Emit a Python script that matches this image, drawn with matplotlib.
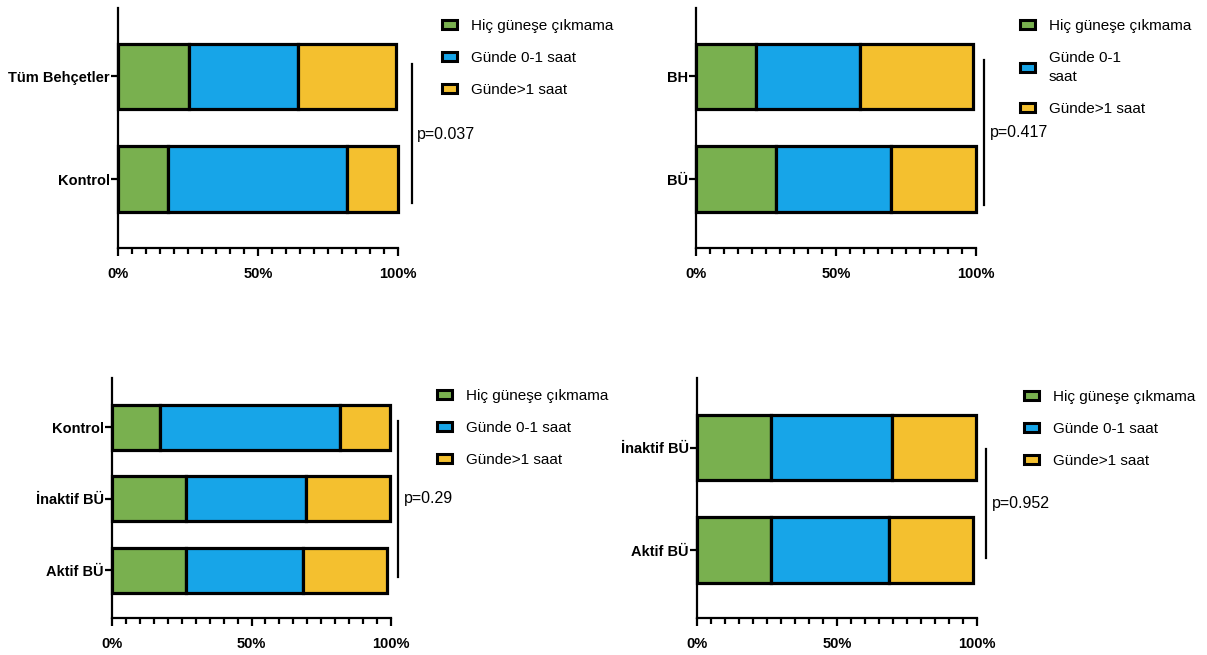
import matplotlib
matplotlib.use("Agg")
import matplotlib.pyplot as plt
from matplotlib import font_manager
from matplotlib.patches import Patch
from matplotlib.ticker import MultipleLocator

# ---- data (percent of each group) ----
series_labels = ["Hiç güneşe çıkmama", "Günde 0-1 saat", "Günde>1 saat"]
series_labels_bh = ["Hiç güneşe çıkmama", "Günde 0-1\nsaat", "Günde>1 saat"]
series_colors = ["#79B04F", "#17A5E8", "#F4C02F"]

xtick_values = [0, 50, 100]
xtick_labels = ["0%", "50%", "100%"]

# panel A: all Behcet vs control
cats_a = ["Kontrol", "Tüm Behçetler"]
hic_a = [17.8, 25.2]
gunde01_a = [64.0, 39.2]
gunde1_a = [18.2, 35.0]
p_a = "p=0.037"

# panel B: BH vs BU
cats_b = ["BÜ", "BH"]
hic_b = [28.6, 21.5]
gunde01_b = [41.0, 37.2]
gunde1_b = [30.4, 40.2]
p_b = "p=0.417"

# panel C: control, inactive, active
cats_c = ["Aktif BÜ", "İnaktif BÜ", "Kontrol"]
hic_c = [26.5, 26.4, 17.3]
gunde01_c = [42.0, 43.1, 64.4]
gunde1_c = [30.1, 30.3, 18.0]
p_c = "p=0.29"

# panel D: inactive vs active
cats_d = ["Aktif BÜ", "İnaktif BÜ"]
hic_d = [26.5, 26.4]
gunde01_d = [42.0, 43.1]
gunde1_d = [30.1, 30.3]
p_d = "p=0.952"

W, H = 1207, 655

names = {f.name for f in font_manager.fontManager.ttflist}
if "Liberation Sans Narrow" in names:
    FAMILY = ["Liberation Sans Narrow", "DejaVu Sans"]
    FS, FS_LEG, FS_P = 12, 13, 13.5
else:
    FAMILY = ["Liberation Sans", "DejaVu Sans"]
    FS, FS_LEG, FS_P = 10.5, 11, 11.5
plt.rcParams["font.family"] = FAMILY

fig = plt.figure(figsize=(W / 100, H / 100), dpi=100)


def px_rect(x0, ytop, x1, ybot):
    return [x0 / W, 1 - ybot / H, (x1 - x0) / W, (ybot - ytop) / H]


def draw_panel(rect, cats, series, ylim, bar_h, labels, leg_xy, bracket, ptext):
    ax = fig.add_axes(px_rect(*rect))
    pos = list(range(len(cats)))
    left = [0.0] * len(cats)
    for vals, col in zip(series, series_colors):
        ax.barh(pos, vals, left=left, height=bar_h, color=col,
                edgecolor="black", linewidth=2.3, clip_on=False, zorder=3)
        left = [l + v for l, v in zip(left, vals)]

    ax.set_xlim(0, 100)
    ax.set_ylim(*ylim)
    for s in ["top", "right"]:
        ax.spines[s].set_visible(False)
    for s in ["left", "bottom"]:
        ax.spines[s].set_linewidth(1.6)

    ax.set_xticks(xtick_values, labels=xtick_labels, fontweight="bold", fontsize=FS)
    ax.xaxis.set_minor_locator(MultipleLocator(5))
    ax.tick_params(axis="x", which="major", length=5.5, width=1.6, pad=8)
    ax.tick_params(axis="x", which="minor", length=4, width=1.6)
    ax.set_yticks(pos, labels=cats, fontweight="bold", fontsize=FS)
    ax.tick_params(axis="y", length=5, width=1.6, pad=1)

    # significance bracket
    bx, by0, by1 = bracket
    ax.plot([bx, bx], [by0, by1], color="black", lw=1.6,
            transform=ax.transAxes, clip_on=False)
    ax.text(ptext[0], ptext[1], ptext[2], transform=ax.transAxes,
            ha="left", va="center", fontsize=FS_P)

    handles = [Patch(facecolor=c, edgecolor="black", linewidth=2.2) for c in series_colors]
    leg = ax.legend(handles, labels, loc="upper left",
                    bbox_to_anchor=(leg_xy[0] / W, 1 - leg_xy[1] / H),
                    bbox_transform=fig.transFigure, frameon=False, fontsize=FS_LEG,
                    handlelength=1.0, handleheight=0.5, handletextpad=0.9,
                    labelspacing=1.17, borderpad=0, borderaxespad=0)
    for t in leg.get_texts():
        t.set_linespacing(1.45)
    return ax


draw_panel((118, 8, 398, 248), cats_a, [hic_a, gunde01_a, gunde1_a],
           (-0.673, 1.668), 0.64, series_labels, (442, 19),
           (1.05, 0.767, 0.1875), (1.068, 0.475, p_a))

draw_panel((696, 8, 976, 248), cats_b, [hic_b, gunde01_b, gunde1_b],
           (-0.673, 1.668), 0.64, series_labels_bh, (1020, 19),
           (1.029, 0.783, 0.179), (1.05, 0.483, p_b))

draw_panel((112, 378, 391, 618), cats_c, [hic_c, gunde01_c, gunde1_c],
           (-0.664, 2.69), 0.63, series_labels, (437, 389),
           (1.025, 0.82, 0.171), (1.047, 0.496, p_c))

draw_panel((697, 378, 977, 618), cats_d, [hic_d, gunde01_d, gunde1_d],
           (-0.663, 1.678), 0.64, series_labels, (1024, 390),
           (1.032, 0.704, 0.25), (1.054, 0.479, p_d))

fig.savefig("out.png", dpi=100, facecolor="white")
